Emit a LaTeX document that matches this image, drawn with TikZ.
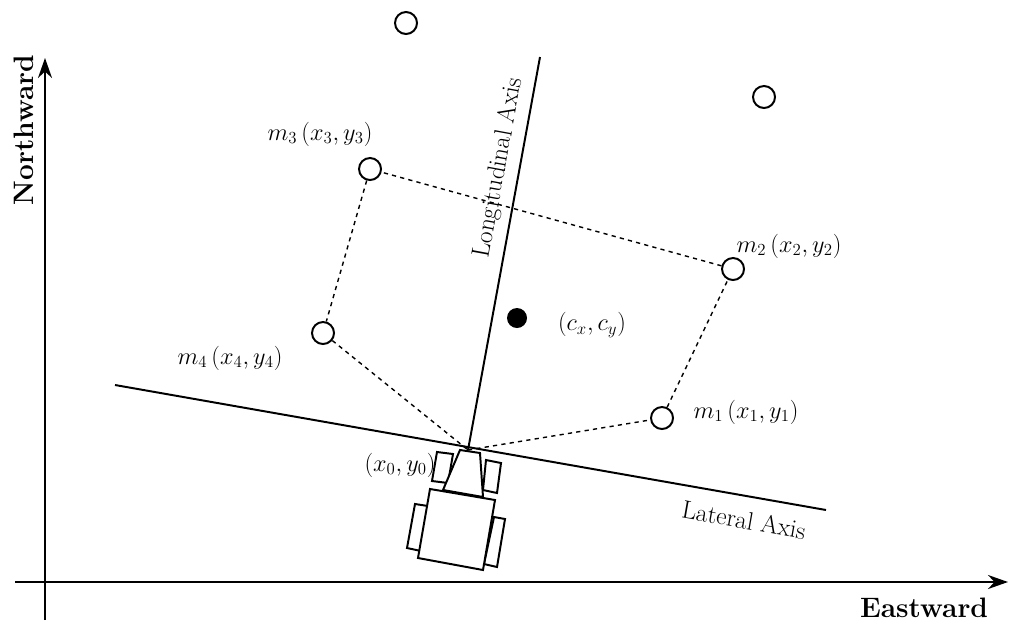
\documentclass[tikz,border=0pt]{standalone}
\usetikzlibrary{arrows.meta}
\begin{document}
\begin{tikzpicture}[x=0.025cm,y=-0.025cm, line width=1.4pt,
  landmark/.style={circle, draw, fill=white, minimum size=0.55cm, inner sep=0pt},
  centre/.style={circle, fill=black, minimum size=0.5cm, inner sep=0pt},
  lbl/.style={font=\fontsize{18}{22}\selectfont},
  link/.style={dashed, line width=1pt},
  axis/.style={-{Stealth[length=5mm,width=3.5mm]}},
  part/.style={fill=white}]
\useasboundingbox (0,0) rectangle (1024,639);

% world axes
\coordinate (south) at (45,620);
\coordinate (north) at (45,58);
\coordinate (west) at (15,582);
\coordinate (east) at (1008,582);
\draw[axis] (south) -- (north);
\draw[axis] (west) -- (east);
\node[font=\fontsize{20}{24}\selectfont\bfseries, rotate=90] (nlab) at (24,130) {Northward};
\node[font=\fontsize{20}{24}\selectfont\bfseries] (elab) at (924,608) {Eastward};

% vehicle axes
\coordinate (o) at (468,450);
\coordinate (lonend) at (540,57);
\coordinate (latA) at (115,385);
\coordinate (latB) at (826,510);
\draw (o) -- (lonend);
\draw (latA) -- (latB);
\node[lbl, rotate=79.6] (lonlab) at (499,168) {Longitudinal Axis};
\node[lbl, rotate=-10] (latlab) at (744,520) {Lateral Axis};

% vehicle
\draw[part] (437,452) -- (453,454) -- (448,483) -- (432,481) -- cycle;
\draw[part] (486,460) -- (501,463) -- (497,493) -- (483,490) -- cycle;
\draw[part] (415,504) -- (428,506) -- (421,551) -- (407,548) -- cycle;
\draw[part] (494,517) -- (505,519) -- (497,567) -- (484,564) -- cycle;
\draw[part] (460,450) -- (480,453) -- (483,497) -- (443,490) -- cycle;
\draw[part] (430,489) -- (495,500) -- (483,570) -- (418,558) -- cycle;

% markers
\node[landmark] (m1) at (662,418) {};
\node[landmark] (m2) at (733,269) {};
\node[landmark] (m3) at (370,169) {};
\node[landmark] (m4) at (323,333) {};
\node[landmark] (m5) at (406,23) {};
\node[landmark] (m6) at (764,97) {};
\node[centre] (c) at (517,318) {};

\draw[link] (o) -- (m1) -- (m2) -- (m3) -- (m4) -- (o);

% labels
\node[lbl] (l1) at (746,412) {$m_1\,(x_1, y_1)$};
\node[lbl] (l2) at (789,246) {$m_2\,(x_2, y_2)$};
\node[lbl] (l3) at (320,134) {$m_3\,(x_3, y_3)$};
\node[lbl] (l4) at (230,358) {$m_4\,(x_4, y_4)$};
\node[lbl] (lc) at (592,325) {$(c_x, c_y)$};
\node[lbl] (l0) at (400,465) {$(x_0, y_0)$};
\end{tikzpicture}
\end{document}
